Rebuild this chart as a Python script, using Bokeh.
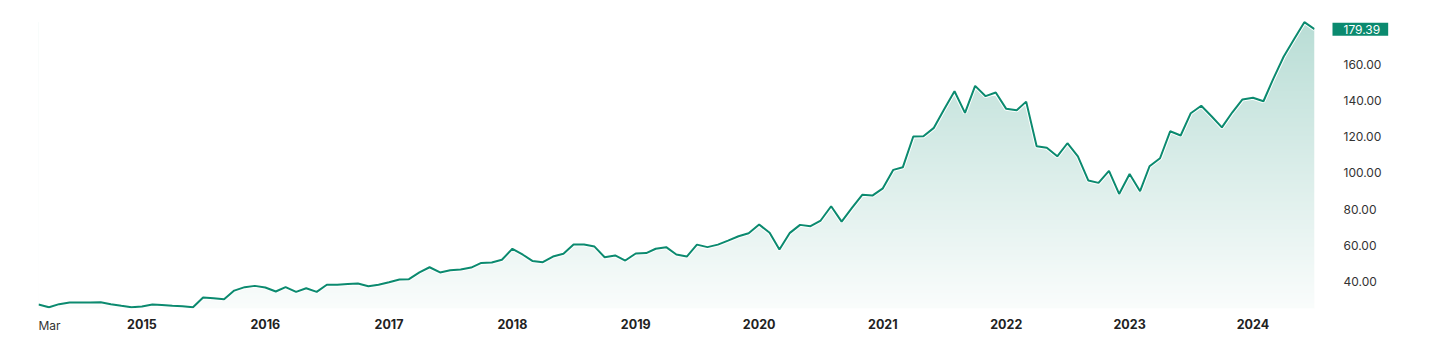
import numpy as np
import pandas as pd
from bokeh.plotting import figure
from bokeh.models import Range1d, FixedTicker, PrintfTickFormatter, Label
from bokeh.embed import file_html
from bokeh.resources import INLINE

# ---- data ----
dates = pd.date_range("2014-03-01", periods=125, freq="MS")
prices = [
    27.3, 25.8, 27.5, 28.4, 28.4, 28.4, 28.6, 27.5, 26.6, 25.8,
    26.2, 27.3, 27.0, 26.6, 26.4, 25.8, 31.2, 30.8, 30.2, 35.0,
    36.9, 37.6, 36.7, 34.5, 36.9, 34.3, 36.3, 34.3, 38.2, 38.2,
    38.7, 38.9, 37.4, 38.2, 39.6, 41.1, 41.3, 45.1, 47.9, 45.0,
    46.2, 46.6, 47.7, 50.3, 50.5, 52.0, 58.1, 54.8, 51.4, 50.7,
    53.8, 55.3, 60.4, 60.4, 59.3, 53.4, 54.4, 51.6, 55.5, 55.7,
    58.1, 59.0, 54.9, 53.8, 60.4, 59.0, 60.4, 62.6, 65.0, 66.7,
    71.5, 66.9, 57.7, 66.9, 71.3, 70.6, 73.7, 81.6, 73.1, 80.5,
    87.9, 87.5, 91.5, 101.7, 103.1, 120.1, 120.3, 124.9, 135.0, 145.1,
    133.2, 148.1, 142.4, 144.4, 135.4, 134.6, 139.4, 114.7, 113.9, 109.2,
    116.4, 109.2, 95.8, 94.5, 101.1, 88.4, 99.4, 89.9, 103.7, 108.1,
    123.0, 120.7, 133.0, 137.1, 131.2, 125.2, 133.5, 140.6, 141.5, 139.6,
    152.0, 164.3, 173.7, 183.3, 179.39,
]
year_labels = ["2015", "2016", "2017", "2018", "2019", "2020", "2021", "2022", "2023", "2024"]
y_ticks = [40, 60, 80, 100, 120, 140, 160]
first_label = "Mar"
last_label = "179.39"

TEAL = "#0b8a6f"
FONT = "Inter"

y_start, y_end = 25.1, 192.5
x_ms = [int(d.timestamp() * 1000) for d in dates]

p = figure(width=1433, height=353, x_axis_type="datetime", y_axis_location="right",
           output_backend="svg", toolbar_location=None,
           x_range=Range1d(x_ms[0], x_ms[-1]), y_range=Range1d(y_start, y_end),
           min_border_left=38, min_border_right=119, min_border_top=5, min_border_bottom=45)
p.outline_line_color = None
p.background_fill_color = "white"
p.border_fill_color = "white"
p.grid.visible = False

# gradient fill under the line: vertical gradient image, then mask above the line
top = max(prices)
H = 400
alpha = np.linspace(0.02, 0.02 + 0.28 * (top - y_start) / (y_end - y_start), H)
r = (255 - alpha * (255 - 11)).astype(np.uint8)
g = (255 - alpha * (255 - 138)).astype(np.uint8)
b = (255 - alpha * (255 - 111)).astype(np.uint8)
img = np.empty((H, 1), dtype=np.uint32)
view = img.view(dtype=np.uint8).reshape((H, 1, 4))
view[:, 0, 0] = r
view[:, 0, 1] = g
view[:, 0, 2] = b
view[:, 0, 3] = 255
p.image_rgba(image=[img], x=x_ms[0], y=y_start, dw=x_ms[-1] - x_ms[0], dh=top - y_start)
mask_x = x_ms + [x_ms[-1], x_ms[0]]
mask_y = prices + [y_end + 50, y_end + 50]
p.patch(mask_x, mask_y, fill_color="white", line_color="white", line_width=4)
p.line(x_ms, prices, line_color=TEAL, line_width=2)

# x axis
jan_ms = [int(pd.Timestamp(f"{y}-01-01").timestamp() * 1000) for y in year_labels]
xa = p.xaxis[0]
xa.ticker = FixedTicker(ticks=jan_ms)
xa.major_label_overrides = {k: lab for k, lab in zip(jan_ms, year_labels)}
xa.axis_line_color = None
xa.major_tick_line_color = None
xa.minor_tick_line_color = None
xa.major_tick_out = 0
xa.major_tick_in = 0
xa.major_label_standoff = 10
xa.major_label_text_font = FONT
xa.major_label_text_font_style = "bold"
xa.major_label_text_font_size = "12.5px"
xa.major_label_text_color = "#222222"

# y axis (right)
ya = p.yaxis[0]
ya.ticker = FixedTicker(ticks=y_ticks)
ya.formatter = PrintfTickFormatter(format="%.2f")
ya.axis_line_color = None
ya.major_tick_line_color = None
ya.minor_tick_line_color = None
ya.major_tick_out = 0
ya.major_tick_in = 0
ya.major_label_standoff = 29
ya.major_label_text_font = FONT
ya.major_label_text_font_size = "12px"
ya.major_label_text_color = "#333333"

# first-period label and last value badge (in side panels so they are not clipped)
p.add_layout(Label(x=float(x_ms[0]), y=y_start, y_offset=-17, text=first_label,
                   text_align="left", text_baseline="middle",
                   text_font=FONT, text_font_size="12px", text_color="#333333"), "left")
p.add_layout(Label(x=float(x_ms[-1]), y=prices[-1], x_offset=18, text=last_label,
                   text_align="left", text_baseline="middle",
                   text_font=FONT, text_font_size="12px", text_color="white",
                   background_fill_color=TEAL,
                   padding=dict(left=11, right=8, top=2, bottom=2)), "below")

open("out.html", "w").write(file_html(p, INLINE))
